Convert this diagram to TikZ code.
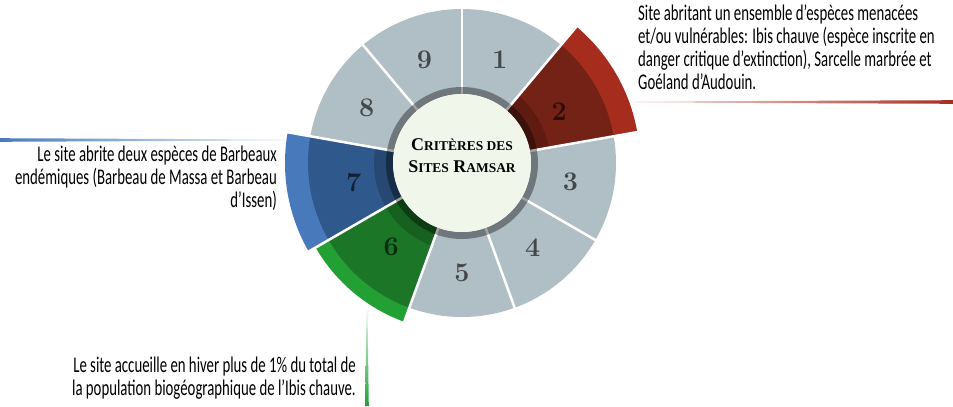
\documentclass[tikz,border=0pt]{standalone}
\usepackage{fontspec}
\usepackage{xcolor}
\usetikzlibrary{calc}
\usetikzlibrary{positioning}

\newfontfamily\notefont[FakeStretch=0.66]{Carlito}
\newfontfamily\titlefont{Liberation Serif}

\definecolor{seggrey}{RGB}{176,190,197}
\definecolor{hubfill}{RGB}{240,246,234}
\definecolor{redlight}{RGB}{166,45,30}
\definecolor{reddark}{RGB}{116,33,22}
\definecolor{bluelight}{RGB}{72,122,187}
\definecolor{bluedark}{RGB}{47,88,140}
\definecolor{greenlight}{RGB}{34,160,52}
\definecolor{greendark}{RGB}{27,118,40}

% annular piece: [options]{start}{end}{inner r}{outer r}
\newcommand{\ringpart}[5][]{%
  \path[#1] (#2:#4) arc[start angle=#2, end angle=#3, radius=#4]
    -- (#3:#5) arc[start angle=#3, end angle=#2, radius=#5] -- cycle;}
\newcommand{\smallcap}[1]{{\fontsize{13.5}{13.5}\selectfont #1}}

\begin{document}
\begin{tikzpicture}[x=1bp, y=1bp]
	\tikzstyle{num}=[font=\fontsize{27}{27}\selectfont\bfseries, text=black, text opacity=0.62, inner sep=0pt]
	\tikzstyle{note}=[font=\notefont\fontsize{22.5}{23}\selectfont, inner sep=0pt]
	\tikzstyle{hub}=[circle, fill=hubfill, minimum size=138bp, inner sep=0pt]
	\useasboundingbox (-462,-243) rectangle (491,163);

	% grey criteria
	\foreach \s/\e in {50/90, -30/10, -70/-30, -110/-70, 130/170, 90/130}
		\ringpart[fill=seggrey]{\s}{\e}{69}{154};

	% highlighted criteria
	\ringpart[fill=redlight]{10}{50}{69}{178}
	\ringpart[fill=reddark]{10}{50}{69}{154}
	\ringpart[fill=bluelight]{170}{210}{69}{177}
	\ringpart[fill=bluedark]{170}{210}{69}{154}
	\ringpart[fill=greenlight]{-150}{-110}{69}{169}
	\ringpart[fill=greendark]{-150}{-110}{69}{154}
	\foreach \s in {10,170,-150}
		\ringpart[fill=black, fill opacity=0.18]{\s}{\s+40}{69}{88};

	\foreach \a in {90,50,10,-30,-70,-110,-150,170,130}
		\draw[white, line width=2.5bp] (\a:66) -- (\a:182);

	\draw[black, opacity=0.37, line width=7bp] (0,0) circle[radius=72.5];
	\node[hub] (hub) at (0,0) {};
	\node[font=\titlefont\bfseries\fontsize{18}{22}\selectfont, align=center] (title) at ([yshift=7bp]hub.center)
		{C\smallcap{RITÈRES DES}\\S\smallcap{ITES} R\smallcap{AMSAR}};

	\foreach \m/\n in {70/1, 28/2, -10/3, -50/4, -90/5, -130/6, 190/7, 150/8, 110/9}
		\node[num] (n\n) at (\m:110) {\n};

	% leader lines
	\coordinate (r2a) at (171,61);
	\coordinate (r2b) at (491,61);
	\coordinate (b7a) at (-462,23);
	\coordinate (b7b) at (-179,23);
	\coordinate (g6a) at (-95,-147);
	\coordinate (g6b) at (-95,-243);
	\shade[left color=redlight!8, right color=redlight] ($(r2a)+(0,0.5)$) -- ($(r2b)+(0,1.8)$) -- ($(r2b)+(0,-1.8)$) -- ($(r2a)+(0,-0.5)$) -- cycle;
	\shade[left color=bluelight, right color=bluelight!8] ($(b7a)+(0,1.8)$) -- ($(b7b)+(0,0.5)$) -- ($(b7b)+(0,-0.5)$) -- ($(b7a)+(0,-1.8)$) -- cycle;
	\shade[top color=greenlight!8, bottom color=greenlight] ($(g6a)+(-0.5,0)$) -- ($(g6a)+(0.5,0)$) -- ($(g6b)+(1.8,0)$) -- ($(g6b)+(-1.8,0)$) -- cycle;

	\node[note, anchor=base west, align=left] (note2) at (176,73.7)
		{Site abritant un ensemble d’espèces menacées\\et/ou vulnérables: Ibis chauve (espèce inscrite en\\danger critique d’extinction), Sarcelle marbrée et\\Goéland d’Audouin.};
	\node[note, anchor=base east, align=right] (note7) at (-185,-44)
		{Le site abrite deux espèces de Barbeaux\\endémiques (Barbeau de Massa et Barbeau\\d’Issen)};
	\node[note, anchor=base east, align=right] (note6) at (-106,-232)
		{Le site accueille en hiver plus de 1\% du total de\\la population biogéographique de l’Ibis chauve.};
\end{tikzpicture}
\end{document}
